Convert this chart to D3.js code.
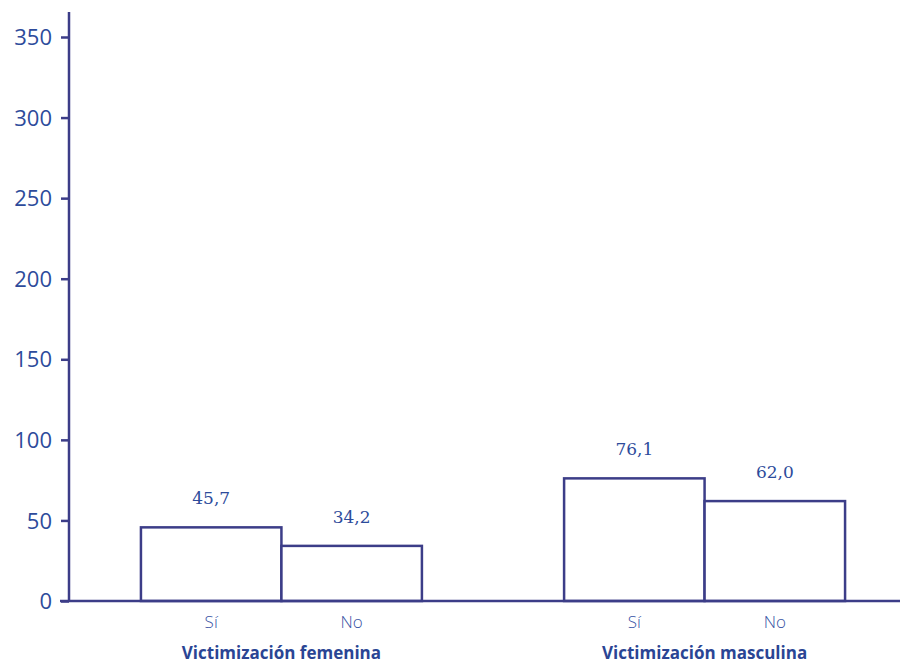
<!DOCTYPE html>
<html><head><meta charset="utf-8">
<script src="https://cdn.jsdelivr.net/npm/d3@7"></script>
<style>body{margin:0;background:#fff}svg{display:block}</style>
</head><body>
<script>
const groups = ["Victimización femenina", "Victimización masculina"];
const answers = ["Sí", "No"];
const femenina = [45.7, 34.2];
const masculina = [76.1, 62.0];
const valueLabels = [["45,7", "34,2"], ["76,1", "62,0"]];
const yTicks = [0, 50, 100, 150, 200, 250, 300, 350];

const W = 900, H = 666;
const axisColor = "#3c3d88", textColor = "#2d4b9b";
const svg = d3.select("body").append("svg").attr("width", W).attr("height", H);

const y = d3.scaleLinear().domain([0, 350]).range([601, 37]);
const x0 = d3.scaleBand().domain(groups).range([69, 917]).paddingInner(0.336).paddingOuter(0.17);
const x1 = d3.scaleBand().domain(answers).range([0, x0.bandwidth()]).padding(0);

const series = [femenina, masculina];

groups.forEach((g, gi) => {
  const gg = svg.append("g").attr("transform", `translate(${x0(g)},0)`);
  gg.selectAll("rect").data(answers).join("rect")
    .attr("x", a => x1(a))
    .attr("y", (a, i) => y(series[gi][i]))
    .attr("width", x1.bandwidth())
    .attr("height", (a, i) => y(0) - y(series[gi][i]))
    .attr("fill", "#fff").attr("stroke", axisColor).attr("stroke-width", 2.5);
  gg.selectAll("text.val").data(answers).join("text").attr("class", "val")
    .attr("x", a => x1(a) + x1.bandwidth() / 2)
    .attr("y", (a, i) => y(series[gi][i]) - 23)
    .attr("text-anchor", "middle")
    .attr("font-family", "DejaVu Serif").attr("font-size", 17)
    .attr("fill", textColor)
    .text((a, i) => valueLabels[gi][i]);
  gg.selectAll("text.cat").data(answers).join("text").attr("class", "cat")
    .attr("x", a => x1(a) + x1.bandwidth() / 2)
    .attr("y", 628)
    .attr("text-anchor", "middle")
    .attr("font-family", "Open Sans").attr("font-size", 17).attr("font-weight", 300)
    .attr("fill", "#3a55a5")
    .text(a => a);
  gg.append("text")
    .attr("x", x0.bandwidth() / 2).attr("y", 659)
    .attr("text-anchor", "middle")
    .attr("font-family", "Open Sans").attr("font-size", 17).attr("font-weight", 700)
    .attr("fill", "#2a4594")
    .text(g);
});

const yAxis = d3.axisLeft(y).tickValues(yTicks).tickSize(8).tickPadding(9).tickFormat(d3.format("d"));
const ya = svg.append("g").attr("transform", "translate(69,0)").call(yAxis);
ya.select(".domain").remove();
ya.selectAll("line").attr("stroke", axisColor).attr("stroke-width", 2.5);
ya.selectAll("text").attr("font-family", "Open Sans").attr("font-size", 22)
  .attr("fill", textColor).attr("dy", "0.35em");
svg.append("line").attr("x1", 69).attr("x2", 69).attr("y1", 12).attr("y2", y(0))
  .attr("stroke", axisColor).attr("stroke-width", 2.5);
svg.append("line").attr("x1", 60).attr("x2", 900).attr("y1", y(0)).attr("y2", y(0))
  .attr("stroke", axisColor).attr("stroke-width", 2.5);
</script>
</body></html>
